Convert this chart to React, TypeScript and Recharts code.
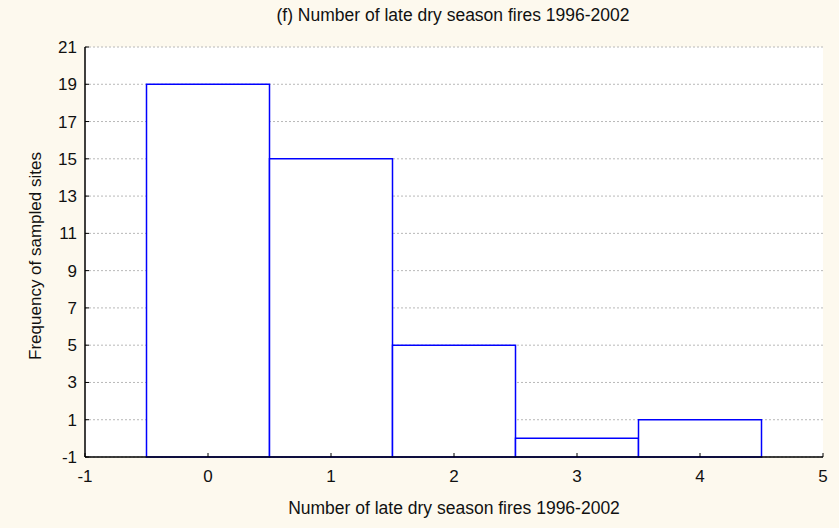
import { ComposedChart, Bar, XAxis, YAxis, CartesianGrid, Label } from "recharts";

const fireCounts = [0, 1, 2, 3, 4];
const siteFrequency = [19, 15, 5, 0, 1];
const xTicks = [-1, 0, 1, 2, 3, 4, 5];
const yTicks = [-1, 1, 3, 5, 7, 9, 11, 13, 15, 17, 19, 21];
const yFloor = -1;

const data = fireCounts.map((c, i) => ({ count: c, range: [yFloor, siteFrequency[i]] }));

const font = "Arial, 'Liberation Sans', sans-serif";

const App = () => {
  return (
    <div style={{ position: "relative", width: 839, height: 528, background: "#FDF9EE", fontFamily: font }}>
      <style>{`body{margin:0}`}</style>
      <div
        style={{
          position: "absolute",
          top: 5,
          left: 85,
          width: 736,
          textAlign: "center",
          fontSize: 17.5,
          lineHeight: "21px",
          color: "#111",
        }}
      >
        (f) Number of late dry season fires 1996-2002
      </div>
      <ComposedChart
        width={839}
        height={528}
        data={data}
        margin={{ top: 47, right: 16, left: 0, bottom: 41 }}
        barCategoryGap={0}
        barGap={0}
      >
        <CartesianGrid vertical={false} fill="#ffffff" stroke="#b8b8b8" strokeDasharray="2 2" yAxisId="left" />
        <XAxis
          dataKey="count"
          type="number"
          domain={[-1, 5]}
          ticks={xTicks}
          allowDataOverflow
          height={30}
          axisLine={{ stroke: "#000", strokeWidth: 1.5 }}
          tickLine={{ stroke: "#000" }}
          tickSize={-4}
          tickMargin={17}
          tick={{ fill: "#111", fontSize: 17, fontFamily: font }}
        >
          <Label
            value="Number of late dry season fires 1996-2002"
            position="bottom"
            offset={15}
            style={{ fill: "#111", fontSize: 17.5, fontFamily: font }}
          />
        </XAxis>
        <XAxis
          xAxisId="top"
          orientation="top"
          dataKey="count"
          type="number"
          domain={[-1, 5]}
          ticks={xTicks}
          height={0}
          axisLine={{ stroke: "#000", strokeWidth: 1.5 }}
          tickLine={{ stroke: "#000" }}
          tickSize={-4}
          tick={false}
        />
        <YAxis
          yAxisId="left"
          type="number"
          domain={[-1, 21]}
          ticks={yTicks}
          width={85}
          axisLine={{ stroke: "#000", strokeWidth: 1.5 }}
          tickLine={{ stroke: "#000" }}
          tickSize={-4}
          tickMargin={12}
          tick={{ fill: "#111", fontSize: 17, fontFamily: font }}
        >
          <Label
            content={({ viewBox }: any) => {
              const cx = 35;
              const cy = viewBox.y + viewBox.height / 2 + 4;
              return (
                <text
                  x={cx}
                  y={cy}
                  transform={`rotate(-90, ${cx}, ${cy})`}
                  textAnchor="middle"
                  dominantBaseline="central"
                  fill="#111"
                  fontSize={17}
                  fontFamily={font}
                >
                  Frequency of sampled sites
                </text>
              );
            }}
          />
        </YAxis>
        <YAxis
          yAxisId="right"
          orientation="right"
          type="number"
          domain={[-1, 21]}
          ticks={yTicks}
          width={0}
          axisLine={{ stroke: "#000", strokeWidth: 1.5 }}
          tickLine={{ stroke: "#000" }}
          tickSize={-4}
          tick={false}
        />
        <Bar
          yAxisId="left"
          dataKey="range"
          fill="#ffffff"
          stroke="#0000ff"
          strokeWidth={1.5}
          isAnimationActive={false}
        />
      </ComposedChart>
    </div>
  );
};

export default App;
